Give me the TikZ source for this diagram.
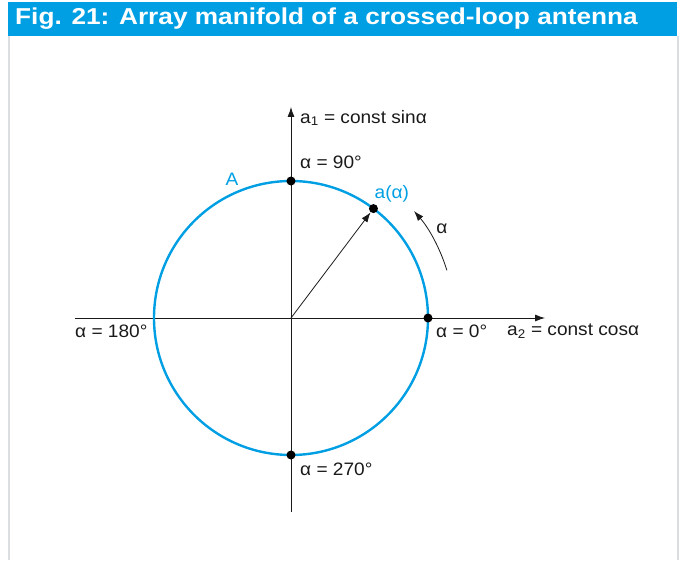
\documentclass[tikz,border=0pt]{standalone}
\usepackage{graphicx}
\usepackage{fontspec}
\setmainfont{Liberation Sans}
\newfontfamily\lblfont[FakeStretch=1.06]{Liberation Sans}
\usetikzlibrary{arrows.meta,positioning,calc}
\definecolor{ink}{HTML}{1A1A1A}
\definecolor{rsblue}{HTML}{009FE3}
\definecolor{frame}{HTML}{DADEE0}

\tikzset{
  lbl/.style={text=ink, font=\lblfont\fontsize{18}{21}\selectfont, inner sep=0pt},
  dot/.style={circle, fill=black, inner sep=0pt, minimum size=9pt},
  axis/.style={draw=ink, line width=0.8pt, -{Latex[length=10pt,width=7pt]}}
}

\begin{document}
\begin{tikzpicture}[x=1pt,y=1pt]
  \useasboundingbox (-291,-242) rectangle (389,318);
  % frame and title bar
  \draw[frame, line width=1.2pt] (-282,282) -- (-282,-242);
  \draw[frame, line width=1.2pt] (387,282) -- (387,-242);
  \node[fill=rsblue, minimum width=669pt, minimum height=34pt, anchor=north west,
        inner sep=0pt] (title) at (-283,316) {};
  \node[anchor=west, text=white, font=\fontsize{23}{26}\selectfont\bfseries,
        inner sep=0pt] (ttext) at ($(title.west)+(7,1)$)
        {\scalebox{1.14}[1]{Fig. 21: Array manifold of a crossed-loop antenna}};
  % axes
  \coordinate (o) at (0,0);
  \coordinate (xl) at (-216,0);
  \coordinate (xr) at (254,0);
  \coordinate (yb) at (0,-194);
  \coordinate (yt) at (0,211);
  \draw[axis] (xl) -- (xr);
  \draw[axis] (yb) -- (yt);
  % manifold
  \draw[rsblue, line width=2.4pt] (o) circle[radius=137];
  \node[dot] (p0) at (0:137) {};
  \node[dot] (p90) at (90:137) {};
  \node[dot] (p270) at (270:137) {};
  \node[dot] (pa) at (53:137) {};
  \draw[ink, line width=0.8pt, -{Latex[length=10pt,width=7pt]}] (o) -- (pa);
  \draw[ink, line width=0.8pt, -{Latex[length=10pt,width=7pt]}] (17:163) arc[start angle=17, end angle=41, radius=163];
  % labels
  \node[lbl, anchor=west] (a1) at (9,200) {a\textsubscript{1} = const sinα};
  \node[lbl, anchor=west] (l90) at (9,156) {α = 90°};
  \node[lbl, text=rsblue] (lA) at (-59,139) {A};
  \node[lbl, text=rsblue, anchor=south west] (laa) at ($(pa)+(1,6)$) {a(α)};
  \node[lbl, anchor=west] (l180) at (-216,-13) {α = 180°};
  \node[lbl, anchor=west] (l0) at (145,-13) {α = 0°};
  \node[lbl, anchor=west] (a2) at (216,-13) {a\textsubscript{2} = const cosα};
  \node[lbl, anchor=west] (l270) at (9,-151) {α = 270°};
  \node[lbl] (lal) at (151,89) {α};
\end{tikzpicture}
\end{document}
